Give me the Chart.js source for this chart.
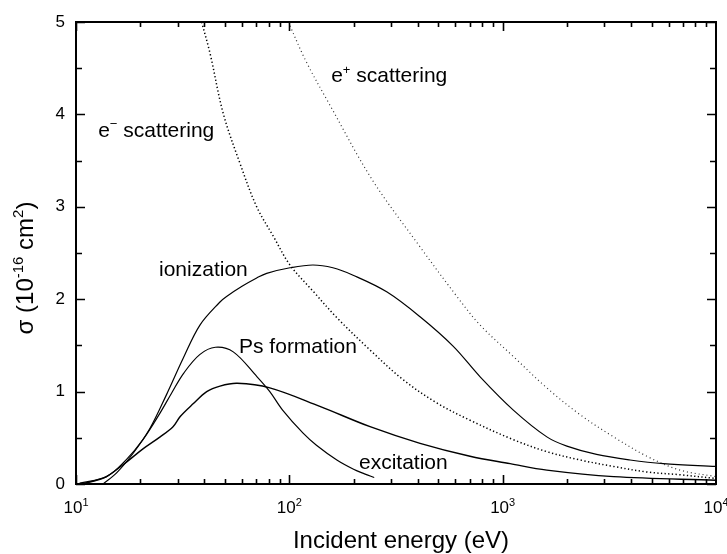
<!DOCTYPE html>
<html>
<head>
<meta charset="utf-8">
<script src="https://cdn.jsdelivr.net/npm/chart.js@4.4.0/dist/chart.umd.min.js"></script>
<style>
  body { margin: 0; background: #fff; }
  canvas { display: block; }
</style>
</head>
<body>
<canvas id="graph" width="727" height="554"></canvas>
<script>
const FONT = '"Liberation Sans", Arial, sans-serif';

// incident energy (eV) and cross section (1e-16 cm^2)
const eMinusE     = [38.8, 42.5, 49, 58.7, 70.3, 84.2, 100.7, 130, 167, 239, 341, 489, 703, 1122, 1611, 2307, 3311, 4745, 6795, 10000];
const eMinusSigma = [5.0, 4.66, 4.01, 3.47, 3.0, 2.68, 2.37, 2.08, 1.80, 1.45, 1.13, 0.88, 0.69, 0.48, 0.35, 0.26, 0.19, 0.13, 0.10, 0.06];

const ePlusE     = [98.9, 120, 155, 245, 400, 610, 784, 1122, 1611, 2307, 3311, 4745, 6795, 10000];
const ePlusSigma = [5.0, 4.57, 4.1, 3.29, 2.6, 2.03, 1.72, 1.38, 1.04, 0.75, 0.51, 0.30, 0.15, 0.08];

const ionE     = [13.4, 15.5, 18.5, 22.2, 26.6, 31.8, 38.1, 47.3, 50.8, 60, 70.3, 78.3, 100.7, 129, 160, 199, 286, 410, 587, 784, 1122, 1611, 2000, 2755, 3954, 5666, 10000];
const ionSigma = [0, 0.12, 0.33, 0.60, 0.97, 1.36, 1.72, 1.97, 2.03, 2.14, 2.23, 2.28, 2.34, 2.37, 2.34, 2.26, 2.08, 1.81, 1.49, 1.16, 0.80, 0.51, 0.41, 0.32, 0.26, 0.22, 0.19];

const psE     = [10.4, 13.9, 17.3, 20.6, 24.8, 28, 32, 38, 45, 54.6, 70.6, 81, 93, 116, 134, 167, 200, 225, 250];
const psSigma = [0.01, 0.08, 0.27, 0.48, 0.77, 0.98, 1.2, 1.40, 1.48, 1.43, 1.16, 1.0, 0.8, 0.55, 0.42, 0.26, 0.16, 0.11, 0.07];

const exE     = [10.4, 12, 13.9, 17.3, 20.6, 24.8, 28.5, 30.8, 35.5, 41, 47.3, 57, 81, 139, 239, 410, 703, 1084, 1611, 3311, 10000];
const exSigma = [0, 0.03, 0.08, 0.24, 0.38, 0.51, 0.62, 0.73, 0.87, 1.0, 1.06, 1.09, 1.04, 0.84, 0.62, 0.44, 0.30, 0.22, 0.15, 0.08, 0.04];

const decades = [10, 100, 1000, 10000];
const decadeExp = ['1', '2', '3', '4'];

// curve labels: [text parts, energy, sigma at baseline]
const curveLabels = [
  [[['e', false], ['\u2212', true], [' scattering', false]], 12.7, 3.76],
  [[['e', false], ['+', true], [' scattering', false]], 157, 4.35],
  [[['ionization', false]], 24.5, 2.25],
  [[['Ps formation', false]], 58.1, 1.42],
  [[['excitation', false]], 212, 0.16]
];

function series(xs, ys) {
  return xs.map((x, i) => ({ x: x, y: ys[i] }));
}

function drawRich(ctx, parts, x, y, size, align) {
  const supSize = Math.round(size * 0.62);
  let w = 0;
  parts.forEach(p => {
    ctx.font = (p[1] ? supSize : size) + 'px ' + FONT;
    w += ctx.measureText(p[0]).width;
  });
  let cx = align === 'center' ? x - w / 2 : x;
  ctx.textAlign = 'left';
  ctx.textBaseline = 'alphabetic';
  parts.forEach(p => {
    ctx.font = (p[1] ? supSize : size) + 'px ' + FONT;
    ctx.fillText(p[0], cx, p[1] ? y - size * 0.4 : y);
    cx += ctx.measureText(p[0]).width;
  });
}

const frame = {
  id: 'frame',
  afterDraw(chart) {
    const ctx = chart.ctx;
    const a = chart.chartArea;
    const xs = chart.scales.x, ys = chart.scales.y;
    ctx.save();
    ctx.strokeStyle = '#000';
    ctx.fillStyle = '#000';

    // inward ticks
    ctx.lineWidth = 1.6;
    ctx.beginPath();
    decades.slice(0, 3).forEach(d => {
      for (let m = 1; m <= 9; m++) {
        const px = Math.round(xs.getPixelForValue(d * m)) + 0.5;
        const len = m === 1 ? 9 : 5;
        ctx.moveTo(px, a.bottom); ctx.lineTo(px, a.bottom - len);
        ctx.moveTo(px, a.top); ctx.lineTo(px, a.top + len);
      }
    });
    for (let v = 0; v <= 5; v += 0.5) {
      const py = Math.round(ys.getPixelForValue(v)) + 0.5;
      const len = v % 1 === 0 ? 9 : 6;
      ctx.moveTo(a.left, py); ctx.lineTo(a.left + len, py);
      ctx.moveTo(a.right, py); ctx.lineTo(a.right - len, py);
    }
    ctx.stroke();

    ctx.lineWidth = 2;
    ctx.strokeRect(a.left, a.top, a.right - a.left, a.bottom - a.top);

    // x tick labels 10^n
    decades.forEach((d, i) => {
      drawRich(ctx, [['10', false], [decadeExp[i], true]], xs.getPixelForValue(d), 513, 17, 'center');
    });

    // curve labels
    curveLabels.forEach(l => {
      drawRich(ctx, l[0], xs.getPixelForValue(l[1]), ys.getPixelForValue(l[2]), 21, 'left');
    });

    // axis titles
    drawRich(ctx, [['Incident energy (eV)', false]], (a.left + a.right) / 2 + 5, 548, 24, 'center');
    ctx.translate(33, 268);
    ctx.rotate(-Math.PI / 2);
    drawRich(ctx, [['\u03c3 (10', false], ['-16', true], [' cm', false], ['2', true], [')', false]], 0, 0, 24, 'center');
    ctx.restore();
  }
};

const common = {
  borderColor: '#000',
  pointRadius: 0,
  fill: false,
  tension: 0.35
};

new Chart(document.getElementById('graph').getContext('2d'), {
  type: 'line',
  data: {
    datasets: [
      Object.assign({ label: 'e- scattering', data: series(eMinusE, eMinusSigma), borderWidth: 1.5, borderDash: [1.3, 2.4] }, common),
      Object.assign({ label: 'e+ scattering', data: series(ePlusE, ePlusSigma), borderWidth: 1.2, borderDash: [1, 3] }, common, { borderColor: '#333' }),
      Object.assign({ label: 'ionization', data: series(ionE, ionSigma), borderWidth: 1.2 }, common),
      Object.assign({ label: 'Ps formation', data: series(psE, psSigma), borderWidth: 1.2 }, common),
      Object.assign({ label: 'excitation', data: series(exE, exSigma), borderWidth: 1.4 }, common)
    ]
  },
  options: {
    responsive: false,
    animation: false,
    layout: { padding: { top: 22, right: 11, left: 0, bottom: 0 } },
    plugins: {
      legend: { display: false },
      title: { display: false },
      tooltip: { enabled: false }
    },
    scales: {
      x: {
        type: 'logarithmic',
        min: 10,
        max: 10000,
        ticks: { display: false },
        grid: { display: false, drawTicks: false },
        border: { display: false },
        afterFit(s) { s.height = 70; }
      },
      y: {
        min: 0,
        max: 5,
        ticks: {
          stepSize: 1,
          color: '#000',
          padding: 11,
          font: { family: FONT, size: 17 }
        },
        grid: { display: false, drawTicks: false },
        border: { display: false },
        afterFit(s) { s.width = 76; }
      }
    }
  },
  plugins: [frame]
});
</script>
</body>
</html>
